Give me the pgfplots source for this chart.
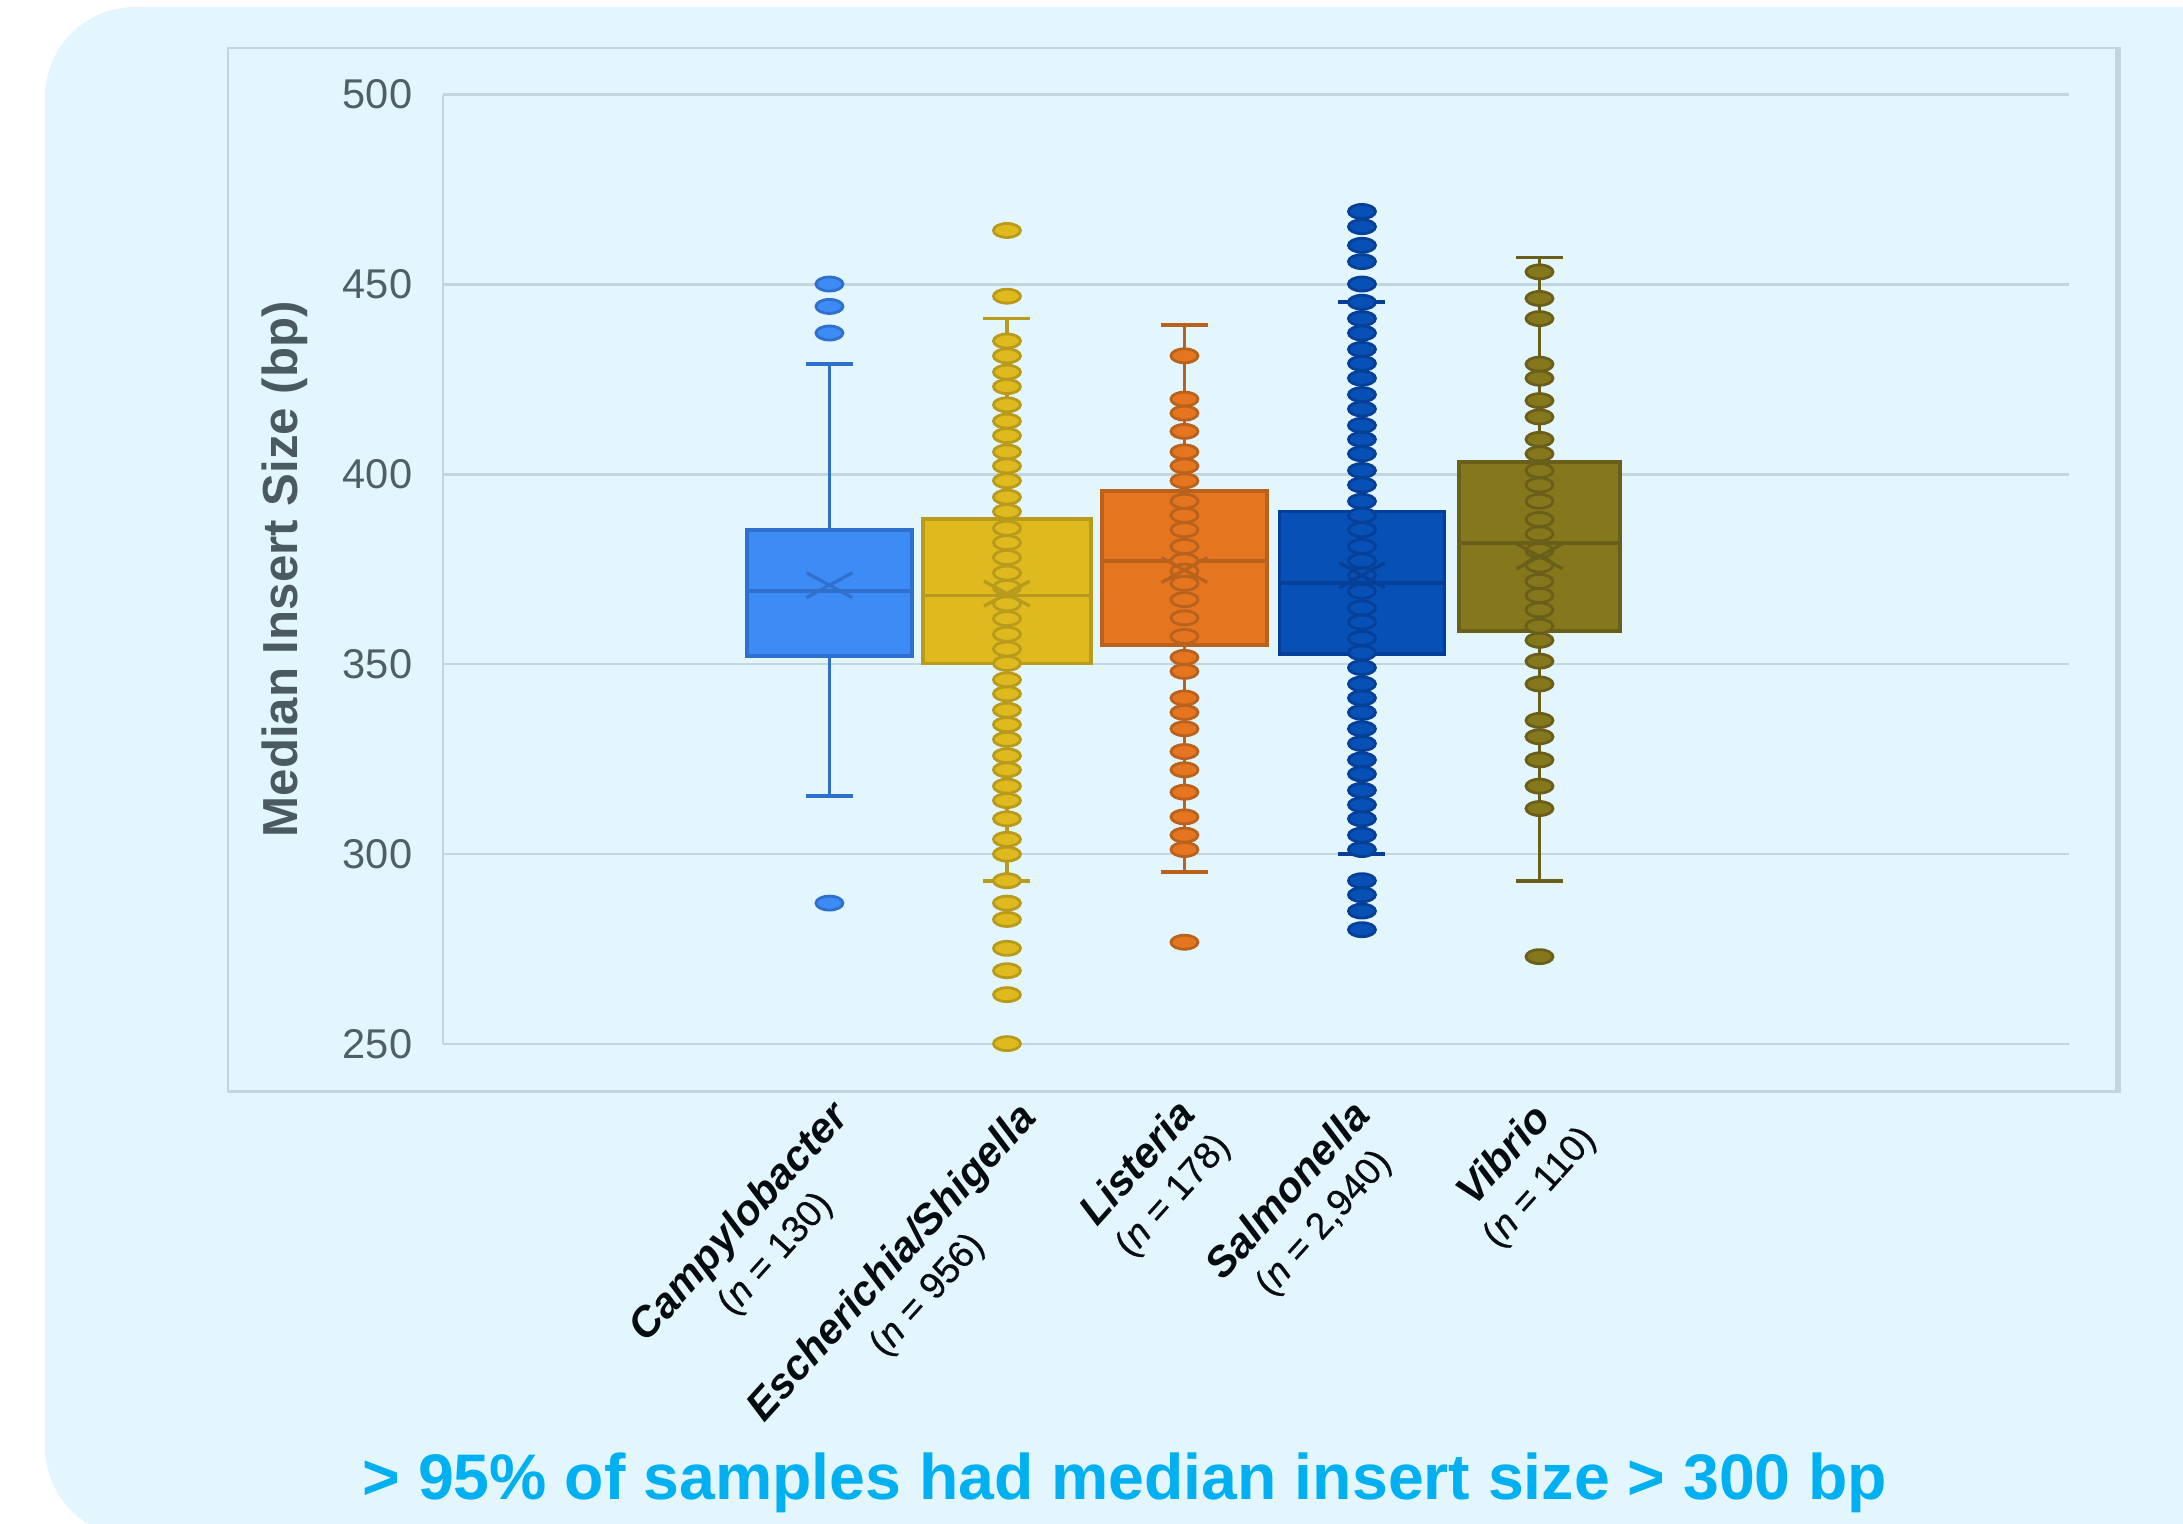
\documentclass[border=0pt]{standalone}
\usepackage{pgfplots}
\pgfplotsset{compat=1.18}
\usepgfplotslibrary{statistics}
\usepackage{fontspec}
\setmainfont{Liberation Sans}
\definecolor{panel}{HTML}{E3F6FE}
\definecolor{gridc}{HTML}{C3D5DD}
\definecolor{tickc}{HTML}{505F66}
\definecolor{ylabc}{HTML}{4A5A60}
\definecolor{bottomc}{HTML}{00B0F0}
\definecolor{labc}{HTML}{050C10}
\definecolor{campF}{HTML}{3D8BF4}
\definecolor{campB}{HTML}{2F70CC}
\definecolor{escF}{HTML}{DFBA1E}
\definecolor{escB}{HTML}{B89B1D}
\definecolor{lisF}{HTML}{E5751E}
\definecolor{lisB}{HTML}{B8621E}
\definecolor{salF}{HTML}{0750B5}
\definecolor{salB}{HTML}{063F98}
\definecolor{vibF}{HTML}{85781C}
\definecolor{vibB}{HTML}{695F1A}
\begin{document}
\begin{tikzpicture}
\path[use as bounding box] (0,0) rectangle (545.75pt,380.75pt);
\clip (0,0) rectangle (545.75pt,380.75pt);
\fill[white] (0,0) rectangle (545.75pt,380.75pt);
\fill[panel, rounded corners=22.5pt] (11.25pt,-3.5pt) rectangle (575pt,379pt);
\draw[gridc, line width=0.5pt] (57pt,108pt) rectangle (529.25pt,368.75pt);
\draw[gridc, line width=1.5pt] (529.4pt,107.6pt) -- (529.4pt,368.9pt);
\draw[gridc, line width=0.8pt] (57pt,107.8pt) -- (530pt,107.8pt);
\begin{axis}[
  at={(110.75pt,119.75pt)}, anchor=south west,
  scale only axis, width=406.5pt, height=237.375pt,
  xmin=-1.177, xmax=7.983, ymin=250, ymax=500,
  ytick={250,300,350,400,450,500},
  xtick=\empty,
  axis x line=none, axis y line=left,
  axis line style={-, draw=gridc, line width=0.6pt},
  ymajorgrids, major grid style={gridc, line width=0.6pt},
  major tick length=0pt,
  /pgf/number format/assume math mode=true,
  yticklabel style={font=\fontsize{10.4}{12}\selectfont, text=tickc, inner sep=0pt, xshift=-7.5pt},
  ylabel={Median Insert Size (bp)},
  every axis y label/.style={at={(axis description cs:-0.0972,0.5)}, rotate=90, anchor=center, font=\bfseries\fontsize{12.3}{14}\selectfont, text=ylabc},
  clip=false,
  boxplot/draw direction=y,
]
% Campylobacter
\addplot[draw=campB, line width=0.95pt, boxplot prepared={draw position=1, lower whisker=315.2, lower quartile=352.1, median=369.2, upper quartile=385.4, upper whisker=429.0, box extend=0.93, whisker extend=0.265}, boxplot/every box/.style={fill=campF, draw=campB}] coordinates {};
\addplot[only marks, mark=*, mark size=1.75pt, mark options={xscale=1.93, fill=campF, draw=campB, line width=0.7pt}] coordinates {(1,450.1) (1,444.2) (1,437.2) (1,287.1)};
\addplot[only marks, mark=x, mark size=4.4pt, mark options={xscale=1.84, draw=campB, line width=0.8pt}] coordinates {(1,370.8)};
% Escherichia/Shigella
\addplot[draw=escB, line width=0.95pt, boxplot prepared={draw position=2, lower whisker=293.0, lower quartile=350.2, median=368.1, upper quartile=388.2, upper whisker=441.0, box extend=0.95, whisker extend=0.265}, boxplot/every box/.style={fill=escF, draw=escB}] coordinates {};
\addplot[only marks, mark=*, mark size=1.75pt, mark options={xscale=1.93, fill=escF, draw=escB, line width=0.7pt}] coordinates {(2,464.2) (2,446.9) (2,435.1) (2,431.2) (2,426.9) (2,423.1) (2,418.3) (2,414.0) (2,410.2) (2,405.9) (2,402.2) (2,398.3) (2,394.0) (2,390.2) (2,385.8) (2,382.0) (2,378.1) (2,374.0) (2,370.2) (2,365.9) (2,362.0) (2,357.9) (2,354.0) (2,350.2) (2,345.9) (2,342.2) (2,337.9) (2,334.1) (2,330.2) (2,325.9) (2,322.2) (2,317.9) (2,314.1) (2,309.3) (2,303.9) (2,300.0) (2,293.0) (2,287.1) (2,282.8) (2,275.2) (2,269.3) (2,263.0) (2,250.1)};
\addplot[only marks, mark=x, mark size=4.4pt, mark options={xscale=1.84, draw=escB, line width=0.8pt}] coordinates {(2,368.6)};
% Listeria
\addplot[draw=lisB, line width=0.95pt, boxplot prepared={draw position=3, lower whisker=295.2, lower quartile=355.0, median=377.2, upper quartile=395.6, upper whisker=439.4, box extend=0.93, whisker extend=0.265}, boxplot/every box/.style={fill=lisF, draw=lisB}] coordinates {};
\addplot[only marks, mark=*, mark size=1.75pt, mark options={xscale=1.93, fill=lisF, draw=lisB, line width=0.7pt}] coordinates {(3,431.2) (3,419.8) (3,416.1) (3,411.3) (3,405.9) (3,402.2) (3,398.3) (3,392.9) (3,389.2) (3,385.4) (3,381.0) (3,377.2) (3,374.5) (3,371.3) (3,367.0) (3,362.2) (3,357.3) (3,351.8) (3,348.1) (3,341.1) (3,337.3) (3,333.0) (3,327.0) (3,322.2) (3,316.3) (3,309.8) (3,305.0) (3,301.2) (3,276.8)};
\addplot[only marks, mark=x, mark size=4.4pt, mark options={xscale=1.84, draw=lisB, line width=0.8pt}] coordinates {(3,374.8)};
% Salmonella
\addplot[draw=salB, line width=0.95pt, boxplot prepared={draw position=4, lower whisker=300.0, lower quartile=352.6, median=371.3, upper quartile=390.2, upper whisker=445.3, box extend=0.93, whisker extend=0.265}, boxplot/every box/.style={fill=salF, draw=salB}] coordinates {};
\addplot[only marks, mark=*, mark size=1.75pt, mark options={xscale=1.93, fill=salF, draw=salB, line width=0.7pt}] coordinates {(4,469.2) (4,465.2) (4,460.3) (4,456.0) (4,450.1) (4,445.3) (4,441.0) (4,437.2) (4,432.9) (4,429.2) (4,425.3) (4,421.0) (4,417.2) (4,412.9) (4,409.2) (4,405.4) (4,401.0) (4,397.2) (4,392.9) (4,389.2) (4,385.4) (4,381.0) (4,377.2) (4,373.4) (4,369.2) (4,364.8) (4,361.1) (4,356.8) (4,353.0) (4,349.1) (4,344.8) (4,341.1) (4,337.3) (4,333.0) (4,329.1) (4,324.8) (4,321.1) (4,316.8) (4,313.0) (4,309.3) (4,305.0) (4,301.2) (4,293.0) (4,289.3) (4,285.0) (4,280.1)};
\addplot[only marks, mark=x, mark size=4.4pt, mark options={xscale=1.84, draw=salB, line width=0.8pt}] coordinates {(4,373.4)};
% Vibrio
\addplot[draw=vibB, line width=0.95pt, boxplot prepared={draw position=5, lower whisker=293.0, lower quartile=358.7, median=382.0, upper quartile=403.3, upper whisker=457.1, box extend=0.91, whisker extend=0.265}, boxplot/every box/.style={fill=vibF, draw=vibB}] coordinates {};
\addplot[only marks, mark=*, mark size=1.75pt, mark options={xscale=1.93, fill=vibF, draw=vibB, line width=0.7pt}] coordinates {(5,453.3) (5,446.3) (5,441.0) (5,429.0) (5,425.3) (5,419.4) (5,415.1) (5,409.2) (5,405.4) (5,401.0) (5,397.2) (5,392.9) (5,388.1) (5,384.3) (5,379.9) (5,376.1) (5,371.8) (5,368.1) (5,364.3) (5,360.0) (5,356.3) (5,350.8) (5,344.8) (5,335.2) (5,330.9) (5,324.8) (5,317.9) (5,312.0) (5,273.0)};
\addplot[only marks, mark=x, mark size=4.4pt, mark options={xscale=1.84, draw=vibB, line width=0.8pt}] coordinates {(5,378.4)};
% category labels
\tikzset{catlab/.style={rotate=48, anchor=north east, align=center, inner sep=0pt, text=labc, font=\fontsize{10.5}{11.5}\selectfont}}
\newcommand{\nl}[1]{{\fontsize{9.3}{11.5}\selectfont\addfontfeature{FakeBold=0.5}(\textit{n} = #1)}}
\node[catlab] at (axis cs:0.995,236.5) {\textbf{\textit{Campylobacter}}\\\nl{130}};
\node[catlab] at (axis cs:2.045,235.8) {\textbf{\textit{Escherichia/Shigella}}\\\nl{956}};
\node[catlab] at (axis cs:2.944,236.6) {\textbf{\textit{Listeria}}\\\nl{178}};
\node[catlab] at (axis cs:3.927,236.4) {\textbf{\textit{Salmonella}}\\\nl{2,940}};
\node[catlab] at (axis cs:5.003,238.5) {\textbf{\textit{Vibrio}}\\\nl{110}};
\end{axis}
\node[anchor=base, font=\bfseries\fontsize{16.1}{19}\selectfont, text=bottomc] at (281.25pt,6pt) {> 95\% of samples had median insert size > 300 bp};
\end{tikzpicture}
\end{document}
